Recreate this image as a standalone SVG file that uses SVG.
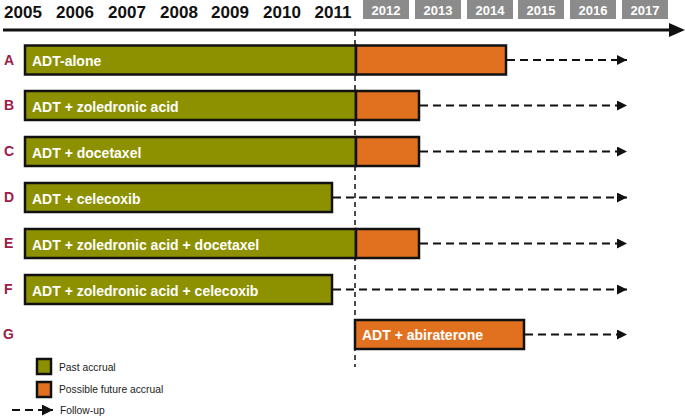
<svg xmlns="http://www.w3.org/2000/svg" width="685" height="416" viewBox="0 0 685 416">
<defs>
<style>
.yr{font-family:"Liberation Sans",Arial,sans-serif;font-weight:bold;font-size:17px;fill:#111;text-anchor:middle}
.fy{font-family:"Liberation Sans",Arial,sans-serif;font-weight:bold;font-size:13px;fill:#fff;text-anchor:middle}
.gbox{fill:#8b8b8b}
.lt{font-family:"Liberation Sans",Arial,sans-serif;font-weight:bold;font-size:14px;fill:#9e1a47}
.bl{font-family:"Liberation Sans",Arial,sans-serif;font-weight:bold;font-size:14px;fill:#fff}
.lg{font-family:"Liberation Sans",Arial,sans-serif;font-size:10.3px;fill:#222}
.past{fill:#8d9100;stroke:#111;stroke-width:2.5}
.fut{fill:#e2711f;stroke:#111;stroke-width:2.5}
.fu{stroke:#111;stroke-width:2;stroke-dasharray:8 5;fill:none}
.vd{stroke:#111;stroke-width:1.5;stroke-dasharray:5 4;fill:none}
</style>
<marker id="ah" viewBox="0 0 10 10" refX="10" refY="5" markerWidth="10" markerHeight="10" markerUnits="userSpaceOnUse" orient="auto">
<path d="M0,0 L10,5 L0,10 Z" fill="#111"/>
</marker>
<marker id="ah2" viewBox="0 0 10 10" refX="10" refY="5" markerWidth="12" markerHeight="11" markerUnits="userSpaceOnUse" orient="auto">
<path d="M0,0 L10,5 L0,10 Z" fill="#111"/>
</marker>
</defs>
<g id="axis">
<text class="yr" x="23" y="18">2005</text>
<text class="yr" x="75" y="18">2006</text>
<text class="yr" x="127" y="18">2007</text>
<text class="yr" x="179" y="18">2008</text>
<text class="yr" x="230" y="18">2009</text>
<text class="yr" x="282" y="18">2010</text>
<text class="yr" x="333" y="18">2011</text>
<rect class="gbox" x="363" y="0" width="46" height="19"/>
<rect class="gbox" x="415" y="0" width="46" height="19"/>
<rect class="gbox" x="467" y="0" width="46" height="19"/>
<rect class="gbox" x="518" y="0" width="46" height="19"/>
<rect class="gbox" x="570" y="0" width="46" height="19"/>
<rect class="gbox" x="622" y="0" width="46" height="19"/>
<text class="fy" x="386" y="15">2012</text>
<text class="fy" x="438" y="15">2013</text>
<text class="fy" x="490" y="15">2014</text>
<text class="fy" x="541" y="15">2015</text>
<text class="fy" x="593" y="15">2016</text>
<text class="fy" x="645" y="15">2017</text>
<line x1="3" y1="30" x2="672" y2="30" stroke="#111" stroke-width="3"/>
<path d="M669,23 L685,30 L669,37 Z" fill="#111"/>
</g>
<g id="labels">
<text class="lt" x="4" y="65">A</text>
<text class="lt" x="4" y="110">B</text>
<text class="lt" x="4" y="156">C</text>
<text class="lt" x="4" y="202">D</text>
<text class="lt" x="4" y="248">E</text>
<text class="lt" x="4" y="294">F</text>
<text class="lt" x="3" y="339">G</text>
</g>
<g id="connectors">
<line class="vd" x1="355" y1="31" x2="355" y2="367"/>
<line class="fu" x1="507" y1="60" x2="627" y2="60" marker-end="url(#ah)"/>
<line class="fu" x1="420" y1="105.5" x2="627" y2="105.5" marker-end="url(#ah)"/>
<line class="fu" x1="420" y1="151.5" x2="627" y2="151.5" marker-end="url(#ah)"/>
<line class="fu" x1="333" y1="197.5" x2="627" y2="197.5" marker-end="url(#ah)"/>
<line class="fu" x1="420" y1="243.5" x2="627" y2="243.5" marker-end="url(#ah)"/>
<line class="fu" x1="333" y1="289.5" x2="627" y2="289.5" marker-end="url(#ah)"/>
<line class="fu" x1="525" y1="334.5" x2="627" y2="334.5" marker-end="url(#ah)"/>
</g>
<g id="A">
<rect class="past" x="25" y="45.5" width="331" height="29"/>
<rect class="fut" x="356" y="45.5" width="150" height="29"/>
<text class="bl" x="32" y="66">ADT-alone</text>
</g>
<g id="B">
<rect class="past" x="25" y="91" width="331" height="29"/>
<rect class="fut" x="356" y="91" width="63" height="29"/>
<text class="bl" x="32" y="111.5">ADT + zoledronic acid</text>
</g>
<g id="C">
<rect class="past" x="25" y="137" width="331" height="29"/>
<rect class="fut" x="356" y="137" width="63" height="29"/>
<text class="bl" x="32" y="157.5">ADT + docetaxel</text>
</g>
<g id="D">
<rect class="past" x="25" y="183" width="307" height="29"/>
<text class="bl" x="32" y="203.5">ADT + celecoxib</text>
</g>
<g id="E">
<rect class="past" x="25" y="229" width="331" height="29"/>
<rect class="fut" x="356" y="229" width="63" height="29"/>
<text class="bl" x="32" y="249.5">ADT + zoledronic acid + docetaxel</text>
</g>
<g id="F">
<rect class="past" x="25" y="275" width="307" height="29"/>
<text class="bl" x="32" y="295.5">ADT + zoledronic acid + celecoxib</text>
</g>
<g id="G">
<rect class="fut" x="355" y="320" width="169" height="29"/>
<text class="bl" x="362" y="340">ADT + abiraterone</text>
</g>
<g id="legend">
<rect class="past" x="37" y="359" width="14" height="15"/>
<text class="lg" x="59" y="371">Past accrual</text>
<rect class="fut" x="37" y="382" width="14" height="15"/>
<text class="lg" x="59" y="393">Possible future accrual</text>
<line class="fu" x1="12" y1="410" x2="53" y2="410" marker-end="url(#ah2)"/>
<text class="lg" x="60" y="414">Follow-up</text>
</g>
</svg>
